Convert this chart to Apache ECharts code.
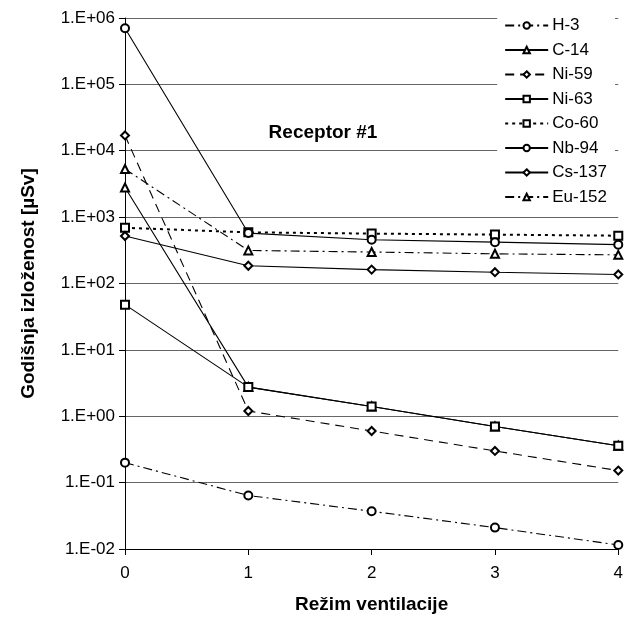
<!DOCTYPE html>
<html>
<head>
<meta charset="utf-8">
<script src="https://cdn.jsdelivr.net/npm/echarts@6/dist/echarts.min.js"></script>
<style>
  html, body { margin: 0; padding: 0; background: #fff; }
  #chart { width: 626px; height: 619px; }
</style>
</head>
<body>
<div id="chart"></div>
<script>
// režimi ventilacije (x)
const modes = [0, 1, 2, 3, 4];

// godišnja izloženost po radionuklidu [µSv]
const h3    = [0.2, 0.064, 0.037, 0.021, 0.0115];
const c14   = [2800, 2.75, 1.4, 0.7, 0.36];
const ni59  = [17000, 1.2, 0.6, 0.3, 0.152];
const ni63  = [48, 2.75, 1.4, 0.7, 0.36];
const co60  = [690, 590, 565, 545, 525];
const nb94  = [700000, 575, 455, 420, 385];
const cs137 = [520, 185, 162, 148, 137];
const eu152 = [5300, 315, 298, 280, 270];

const FONT = 'Liberation Sans, Arial, sans-serif';

function pairs(arr) {
  return arr.map((v, i) => [modes[i], v]);
}

function mk(name, data, symbol, dash, width) {
  return {
    name: name,
    type: 'line',
    data: pairs(data),
    symbol: symbol,
    symbolSize: 8,
    showAllSymbol: true,
    color: '#000',
    lineStyle: { color: '#000', width: width || 1.1, type: dash },
    itemStyle: { color: '#000', borderWidth: 1.1 },
    emphasis: { disabled: true },
    animation: false
  };
}

const dashDot = [9, 4, 2, 4];

const chart = echarts.init(document.getElementById('chart'));
chart.setOption({
  animation: false,
  textStyle: { fontFamily: FONT },
  title: {
    text: 'Receptor #1',
    left: 318,
    top: 118,
    textAlign: 'center',
    textStyle: { fontFamily: FONT, fontSize: 19, fontWeight: 'bold', color: '#000' }
  },
  legend: {
    orient: 'vertical',
    right: 11,
    top: 15,
    itemWidth: 43,
    itemHeight: 8,
    itemGap: 7.5,
    padding: [2, 8, 2, 7],
    backgroundColor: '#fff',
    textStyle: { fontFamily: FONT, fontSize: 17, color: '#000', padding: [0, 0, 0, -1] },
    data: ['H-3', 'C-14', 'Ni-59', 'Ni-63', 'Co-60', 'Nb-94', 'Cs-137', 'Eu-152']
  },
  grid: { left: 125, right: 6, top: 18, bottom: 69, containLabel: false },
  xAxis: {
    type: 'value',
    min: 0,
    max: 4,
    interval: 1,
    name: 'Režim ventilacije',
    nameLocation: 'middle',
    nameGap: 46,
    nameTextStyle: { fontFamily: FONT, fontSize: 19, fontWeight: 'bold', color: '#000' },
    axisLine: { onZero: false, lineStyle: { color: '#000', width: 1 } },
    axisTick: { show: true, inside: false, length: 6, lineStyle: { color: '#000' } },
    axisLabel: { fontFamily: FONT, fontSize: 17, color: '#000', margin: 16 },
    splitLine: { show: false }
  },
  yAxis: {
    type: 'log',
    logBase: 10,
    min: 0.01,
    max: 1000000,
    name: 'Godišnja izloženost [µSv]',
    nameLocation: 'middle',
    nameGap: 87,
    nameTextStyle: { fontFamily: FONT, fontSize: 19, fontWeight: 'bold', color: '#000' },
    axisLine: { show: true, lineStyle: { color: '#000', width: 1 } },
    axisTick: { show: true, length: 6, lineStyle: { color: '#000' } },
    axisLabel: {
      fontFamily: FONT,
      fontSize: 17,
      color: '#000',
      margin: 10,
      formatter: function (v) {
        const e = Math.round(Math.log10(v));
        const s = e < 0 ? '-' : '+';
        const a = Math.abs(e);
        return '1.E' + s + (a < 10 ? '0' + a : a);
      }
    },
    splitLine: { show: true, lineStyle: { color: '#666', width: 1 } }
  },
  series: [
    mk('H-3', h3, 'emptyCircle', dashDot),
    mk('C-14', c14, 'emptyTriangle', 'solid'),
    mk('Ni-59', ni59, 'emptyDiamond', [9, 6]),
    mk('Ni-63', ni63, 'emptyRect', 'solid'),
    mk('Co-60', co60, 'emptyRect', [3, 4], 2),
    mk('Nb-94', nb94, 'emptyCircle', 'solid'),
    mk('Cs-137', cs137, 'emptyDiamond', 'solid'),
    mk('Eu-152', eu152, 'emptyTriangle', dashDot)
  ]
});
</script>
</body>
</html>
